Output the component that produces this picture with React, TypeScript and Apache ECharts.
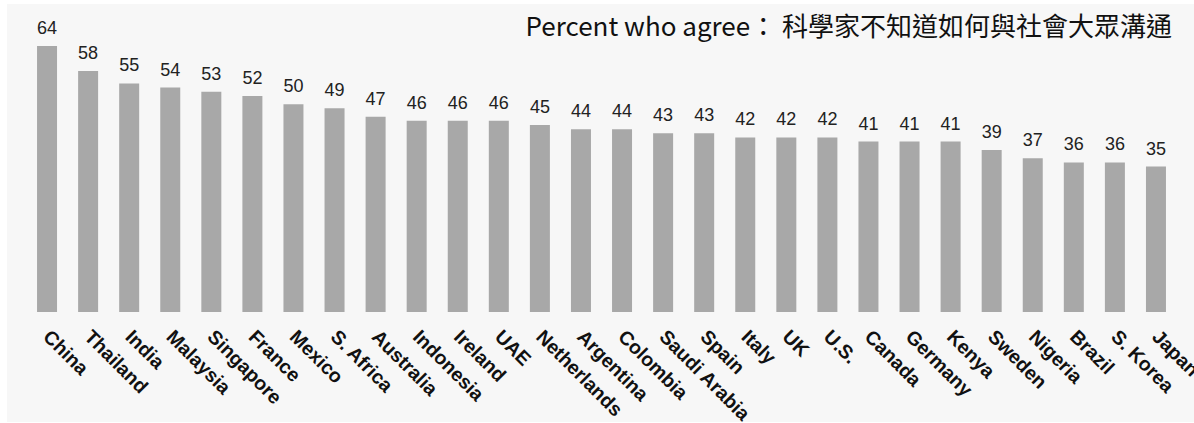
import React, { useEffect, useRef } from "react";
import * as echarts from "echarts";

const categories = ["China", "Thailand", "India", "Malaysia", "Singapore", "France", "Mexico", "S. Africa", "Australia", "Indonesia", "Ireland", "UAE", "Netherlands", "Argentina", "Colombia", "Saudi Arabia", "Spain", "Italy", "UK", "U.S.", "Canada", "Germany", "Kenya", "Sweden", "Nigeria", "Brazil", "S. Korea", "Japan"];
const values = [64, 58, 55, 54, 53, 52, 50, 49, 47, 46, 46, 46, 45, 44, 44, 43, 43, 42, 42, 42, 41, 41, 41, 39, 37, 36, 36, 35];
const titleText = "Percent who agree： 科學家不知道如何與社會大眾溝通";

export default function App() {
  const ref = useRef<HTMLDivElement>(null);
  useEffect(() => {
    const chart = echarts.init(ref.current!, undefined, { renderer: "svg" });
    chart.setOption({
      animation: false,
      backgroundColor: "#ffffff",
      graphic: [
        { type: "rect", z: -10, shape: { x: 7, y: 4, width: 1187, height: 418 }, style: { fill: "#f7f7f7" }, silent: true },
        {
          type: "text",
          right: 22,
          top: 11,
          style: { text: titleText, fontFamily: "Noto Sans CJK TC", fontSize: 26, fill: "#111" },
        },
      ],
      grid: { left: 26.5, right: 17.5, top: 46, bottom: 111, containLabel: false, outerBoundsMode: "none" },
      xAxis: {
        type: "category",
        data: categories,
        axisLine: { show: false },
        axisTick: { show: false },
        axisLabel: {
          interval: 0,
          rotate: -45,
          margin: 21,
          fontFamily: "Liberation Sans",
          fontWeight: "bold",
          fontSize: 19.5,
          color: "#111",
        },
      },
      yAxis: { type: "value", min: 0, max: 64, show: false, splitLine: { show: false } },
      series: [
        {
          type: "bar",
          data: values,
          barWidth: 20,
          itemStyle: { color: "#a8a8a8" },
          label: { show: true, position: "top", distance: 9, fontFamily: "Liberation Sans", fontSize: 18, color: "#222" },
        },
      ],
    });
    return () => chart.dispose();
  }, []);
  return <div ref={ref} style={{ position: "absolute", left: 0, top: 0, width: 1194, height: 423 }} />;
}
